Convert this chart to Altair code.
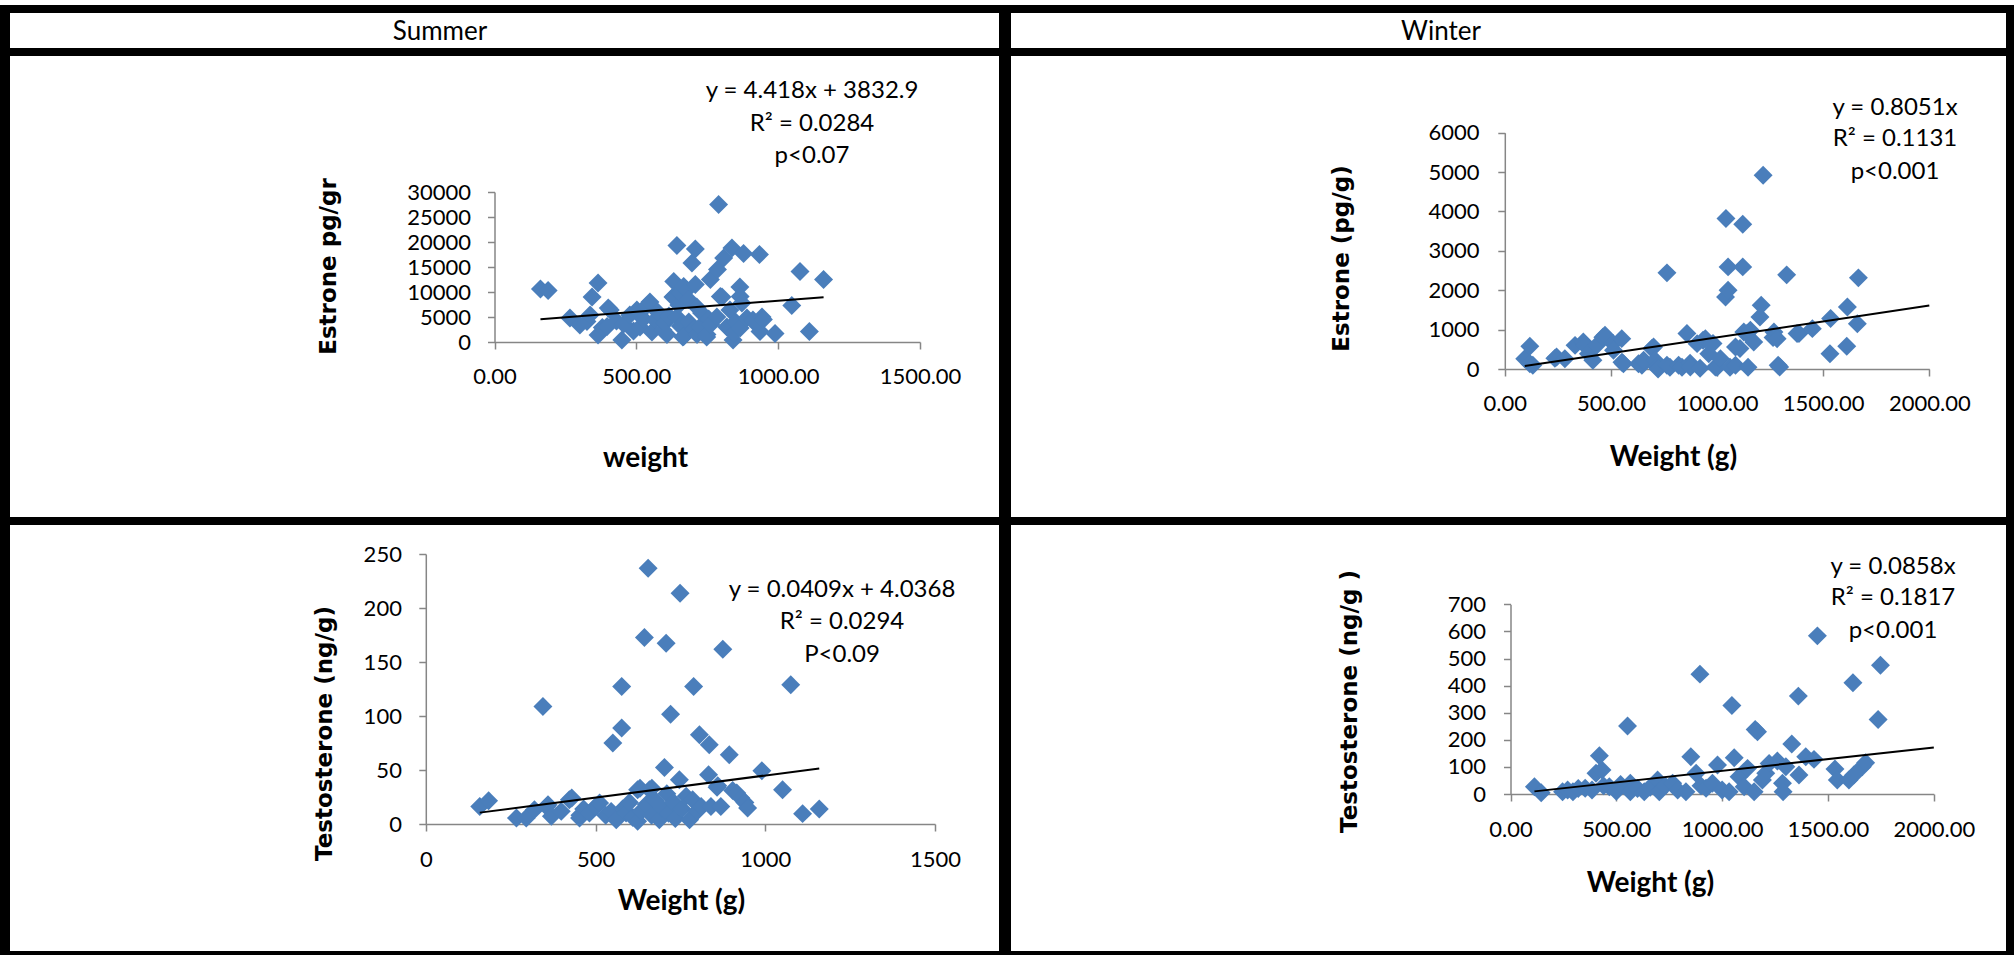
import altair as alt
import pandas as pd

# ---------------------------------------------------------------
# Data: body weight (g) against hormone concentration, per season
# ---------------------------------------------------------------

# Summer - estrone (pg/gr)
summer_estrone_weight = [
    162, 189, 266, 301, 326, 337, 344, 365, 365, 380, 397, 401, 408, 430, 449,
    455, 477, 490, 502, 513, 525, 536, 548, 555, 566, 575, 594, 600, 608, 615,
    629, 632, 632, 643, 643, 650, 655, 655, 664, 667, 667, 678, 684, 685, 696,
    702, 708, 708, 713, 714, 724, 730, 748, 749, 755, 761, 762, 784, 786, 790,
    796, 802, 808, 819, 830, 837, 841, 843, 850, 865, 866, 866, 872, 878, 890,
    911, 913, 934, 936, 943, 948, 989, 1048, 1077, 1110, 1160,
]
summer_estrone_value = [
    10600, 10300, 4800, 3400, 4100, 5400, 9000, 11800, 1400, 2900, 3100, 6800, 6400, 4200, 400,
    3600, 5400, 2200, 6400, 3000, 4600, 7200, 8000, 2000, 4400, 6000, 2400, 3800, 1500, 5200,
    9000, 12100, 9100, 19300, 5000, 7400, 3200, 9800, 1000, 11100, 1100, 10400, 8500, 4000, 15800,
    2600, 18600, 11500, 7000, 1500, 3000, 5800, 1000, 1500, 4600, 12500, 3500, 5000, 14500, 27500,
    9100, 9000, 16800, 3000, 6400, 18800, 400, 1800, 4000, 11000, 9100, 2800, 7800, 17700, 4800,
    4400, 4100, 17500, 2100, 5000, 4500, 1700, 7300, 14100, 2100, 12500,
]

# Winter - estrone (pg/g)
winter_estrone_weight = [
    94, 118, 118, 132, 236, 244, 283, 331, 370, 377, 394, 415, 433, 462, 472,
    510, 512, 551, 552, 559, 630, 646, 654, 693, 701, 708, 717, 722, 764, 764,
    778, 819, 835, 858, 873, 874, 906, 920, 934, 945, 961, 981, 992, 1000, 1016,
    1040, 1042, 1052, 1052, 1061, 1087, 1087, 1108, 1121, 1121, 1126, 1141, 1146, 1157, 1173,
    1202, 1208, 1217, 1264, 1268, 1283, 1288, 1295, 1328, 1377, 1386, 1449, 1532, 1535, 1611,
    1614, 1661, 1666,
]
winter_estrone_value = [
    263, 576, 136, 94, 270, 305, 263, 600, 686, 600, 390, 220, 600, 806, 856,
    650, 475, 771, 170, 136, 136, 94, 220, 520, 560, 220, 50, 0, 2441, 93,
    43, 93, 43, 900, 145, 50, 644, 20, 730, 770, 390, 650, 50, 43, 263,
    1830, 3822, 2000, 2593, 43, 93, 560, 520, 3678, 2593, 940, 900, 43, 983, 686,
    1320, 1620, 4920, 800, 940, 770, 94, 50, 2390, 900, 900, 1025, 390, 1280, 576,
    1576, 1150, 2314,
]

# Summer - testosterone (ng/g)
summer_testo_weight = [
    159, 185, 267, 296, 320, 345, 356, 360, 370, 399, 423, 430, 453, 454, 465,
    482, 500, 512, 530, 546, 551, 561, 577, 577, 580, 590, 600, 610, 624, 624,
    631, 635, 644, 650, 655, 659, 665, 666, 675, 688, 695, 703, 708, 710, 715,
    721, 730, 735, 747, 749, 755, 767, 777, 786, 789, 800, 806, 811, 833, 835,
    840, 858, 860, 869, 875, 894, 904, 916, 928, 940, 948, 990, 1051, 1075, 1110,
    1159,
]
summer_testo_value = [
    16.3, 21.6, 5.5, 5.5, 13.3, 108.8, 16.0, 17.9, 7.1, 11.7, 22.5, 24.0, 5.5, 8.0, 14.0,
    10.2, 16.0, 19.4, 8.0, 11.7, 74.9, 4.0, 88.8, 127.3, 14.0, 10.2, 20.0, 6.0, 31.8, 2.5,
    33.0, 12.0, 172.6, 18.0, 236.8, 31.8, 8.0, 33.0, 22.0, 4.0, 15.0, 52.4, 167.4, 28.0, 10.0,
    101.7, 20.0, 5.0, 41.0, 213.6, 14.0, 25.6, 4.0, 22.5, 127.3, 12.0, 82.6, 16.3, 45.6, 73.4,
    16.3, 34.0, 35.5, 16.3, 161.9, 64.1, 31.1, 28.7, 24.0, 20.0, 14.8, 49.3, 31.8, 128.9, 9.6,
    13.9,
]

# Winter - testosterone (ng/g)
winter_testo_weight = [
    113, 145, 246, 270, 295, 320, 353, 385, 404, 420, 432, 440, 467, 500, 520,
    553, 566, 566, 600, 632, 660, 695, 703, 730, 766, 790, 829, 852, 877, 895,
    900, 924, 954, 978, 1000, 1033, 1046, 1057, 1080, 1104, 1120, 1151, 1156, 1167, 1190,
    1206, 1222, 1261, 1285, 1288, 1301, 1329, 1360, 1363, 1395, 1434, 1450, 1533, 1544, 1599,
    1618, 1622, 1662, 1678, 1737, 1748,
]
winter_testo_value = [
    27, 5, 8.6, 15, 8.6, 20, 21, 15, 76.2, 141.3, 88.5, 30, 27, 10, 35,
    250.6, 39.3, 8.6, 20, 8.6, 25, 51.6, 8.6, 30, 39.3, 15, 8.6, 137.6, 76.2, 442.3,
    30, 20.9, 39.3, 106.9, 15, 8.6, 326.8, 133.9, 63.9, 27, 94.6, 8.6, 238.3, 229.7, 51.6,
    76.2, 113, 121.6, 39.3, 8.6, 100.7, 184.3, 361.2, 70, 137.6, 127.8, 583.5, 92.1, 51.6, 51.6,
    410.3, 70, 100.7, 115.5, 275.2, 475.4,
]

# Linear trend lines as reported on each panel
trend_slope = [4.418, 0.8051, 0.0409, 0.0858]
trend_intercept = [3832.9, 0.0, 4.0368, 0.0]
trend_to_axis_end = [False, True, False, True]

equation_text = ["y = 4.418x + 3832.9", "y = 0.8051x", "y = 0.0409x + 4.0368", "y = 0.0858x"]
r2_text = ["R\u00b2 = 0.0284", "R\u00b2 = 0.1131", "R\u00b2 = 0.0294", "R\u00b2 = 0.1817"]
p_text = ["p<0.07", "p<0.001", "P<0.09", "p<0.001"]

season_names = ["Summer", "Winter"]
y_titles = ["Estrone pg/gr", "Estrone (pg/g)", "Testosterone  (ng/g)", "Testosterone (ng/g )"]
x_titles = ["weight", "Weight (g)", "Weight (g)", "Weight (g)"]

# ---------------------------------------------------------------
# Layout and styling
# ---------------------------------------------------------------
W, H = 2014, 955
FONT = "Lato"
TITLE_FONT = "DejaVu Sans"
GREY = "#868686"
BLUE = "#4A7EBB"

layout = [
    dict(xr=(494.5, 920.0), yr=(342.0, 192.0), xmax=1500, xstep=500, ymax=30000, ystep=5000,
         xfmt=".2f", ypad=17, xpad=27.5, ytitle_at=(328, 266), xtitle_at=(645, 458),
         note_x=812, note_y=(91, 124, 156)),
    dict(xr=(1504.8, 1929.3), yr=(369.0, 132.7), xmax=2000, xstep=500, ymax=6000, ystep=1000,
         xfmt=".2f", ypad=18.8, xpad=27.5, ytitle_at=(1341, 258), xtitle_at=(1673, 457),
         note_x=1895, note_y=(108, 139, 172)),
    dict(xr=(425.8, 935.0), yr=(824.0, 554.0), xmax=1500, xstep=500, ymax=250, ystep=50,
         xfmt="d", ypad=17.4, xpad=28.5, ytitle_at=(324, 733), xtitle_at=(681, 901),
         note_x=842, note_y=(590, 622, 655)),
    dict(xr=(1510.5, 1933.8), yr=(794.0, 604.3), xmax=2000, xstep=500, ymax=700, ystep=100,
         xfmt=".2f", ypad=18, xpad=28, ytitle_at=(1349, 701), xtitle_at=(1650, 883),
         note_x=1893, note_y=(567, 598, 631)),
]

series = [
    (summer_estrone_weight, summer_estrone_value),
    (winter_estrone_weight, winter_estrone_value),
    (summer_testo_weight, summer_testo_value),
    (winter_testo_weight, winter_testo_value),
]

ONE_ROW = alt.InlineData(values=[{}])


def block(x, x2, y, y2):
    return alt.Chart(ONE_ROW).mark_rect(color="black").encode(
        x=alt.value(x), x2=alt.value(x2), y=alt.value(y), y2=alt.value(y2)
    )


def label(text, x, y, size, font=FONT, weight="normal"):
    return alt.Chart(ONE_ROW).mark_text(
        text=text, font=font, fontSize=size, fontWeight=weight,
        align="center", baseline="middle", color="black",
    ).encode(x=alt.value(x), y=alt.value(y))


def panel(i):
    lay = layout[i]
    w, v = series[i]
    x0, x1 = lay["xr"]
    ybot, ytop = lay["yr"]
    xticks = list(range(0, lay["xmax"] + 1, lay["xstep"]))
    yticks = list(range(0, lay["ymax"] + 1, lay["ystep"]))

    x_axis = alt.Axis(
        orient="bottom", offset=ybot - H, values=xticks, format=lay["xfmt"],
        grid=False, domainColor=GREY, domainWidth=1.5, tickColor=GREY, tickWidth=1.5, tickSize=7,
        labelFont=FONT, labelFontSize=22, labelColor="black", labelBaseline="middle",
        labelPadding=lay["xpad"], labelFlush=False, labelOverlap=False, labelBound=False,
        title=x_titles[i], titleFont=FONT, titleFontSize=28, titleFontWeight="bold",
        titleColor="black", titleAlign="center", titleBaseline="middle", titleAngle=0,
        titleX=lay["xtitle_at"][0], titleY=lay["xtitle_at"][1] - ybot,
    )
    y_axis = alt.Axis(
        orient="left", offset=-x0, values=yticks, format="d",
        grid=False, domainColor=GREY, domainWidth=1.5, tickColor=GREY, tickWidth=1.5, tickSize=7,
        labelFont=FONT, labelFontSize=22, labelColor="black", labelPadding=lay["ypad"],
        labelFlush=False, labelOverlap=False, labelBound=False,
        title=y_titles[i], titleFont=TITLE_FONT, titleFontSize=23, titleFontWeight="bold",
        titleColor="black", titleAlign="center", titleBaseline="middle", titleAngle=270,
        titleX=lay["ytitle_at"][0] - x0, titleY=lay["ytitle_at"][1],
    )
    x_enc = alt.X("weight:Q", axis=x_axis,
                  scale=alt.Scale(domain=[0, lay["xmax"]], range=[x0, x1], nice=False, zero=False))
    y_enc = alt.Y("value:Q", axis=y_axis,
                  scale=alt.Scale(domain=[0, lay["ymax"]], range=[ybot, ytop], nice=False, zero=False))

    points = alt.Chart(pd.DataFrame({"weight": w, "value": v})).mark_point(
        shape="diamond", filled=True, size=360, color=BLUE, opacity=1, strokeWidth=0
    ).encode(x=x_enc, y=y_enc)

    start = min(w)
    end = lay["xmax"] if trend_to_axis_end[i] else max(w)
    trend = pd.DataFrame({
        "weight": [start, end],
        "value": [trend_intercept[i] + trend_slope[i] * start,
                  trend_intercept[i] + trend_slope[i] * end],
    })
    line = alt.Chart(trend).mark_line(color="black", strokeWidth=2).encode(x=x_enc, y=y_enc)
    return alt.layer(points, line)


# Table frame around the four panels
frame = [
    block(0, W, 5, 13),        # top edge
    block(0, W, 48, 56),       # under the season header
    block(0, W, 517, 525),     # between the two rows
    block(0, W, 951, H),       # bottom edge
    block(0, 10, 5, H),        # left edge
    block(999, 1011, 5, H),    # middle divider
    block(2006, W, 5, H),      # right edge
]

headers = [label(season_names[0], 440, 32, 26), label(season_names[1], 1441, 32, 26)]

notes = []
for i, lay in enumerate(layout):
    for text, yy in zip([equation_text[i], r2_text[i], p_text[i]], lay["note_y"]):
        notes.append(label(text, lay["note_x"], yy, 24))

chart = alt.layer(
    *frame, *headers, *[panel(i) for i in range(4)], *notes
).resolve_scale(
    x="independent", y="independent"
).resolve_axis(
    x="independent", y="independent"
).properties(
    width=W, height=H, padding=0,
    autosize=alt.AutoSizeParams(type="none"),
    background="white",
).configure_view(strokeWidth=0)

chart.save("out.html", embed_options={"renderer": "svg", "actions": False})
